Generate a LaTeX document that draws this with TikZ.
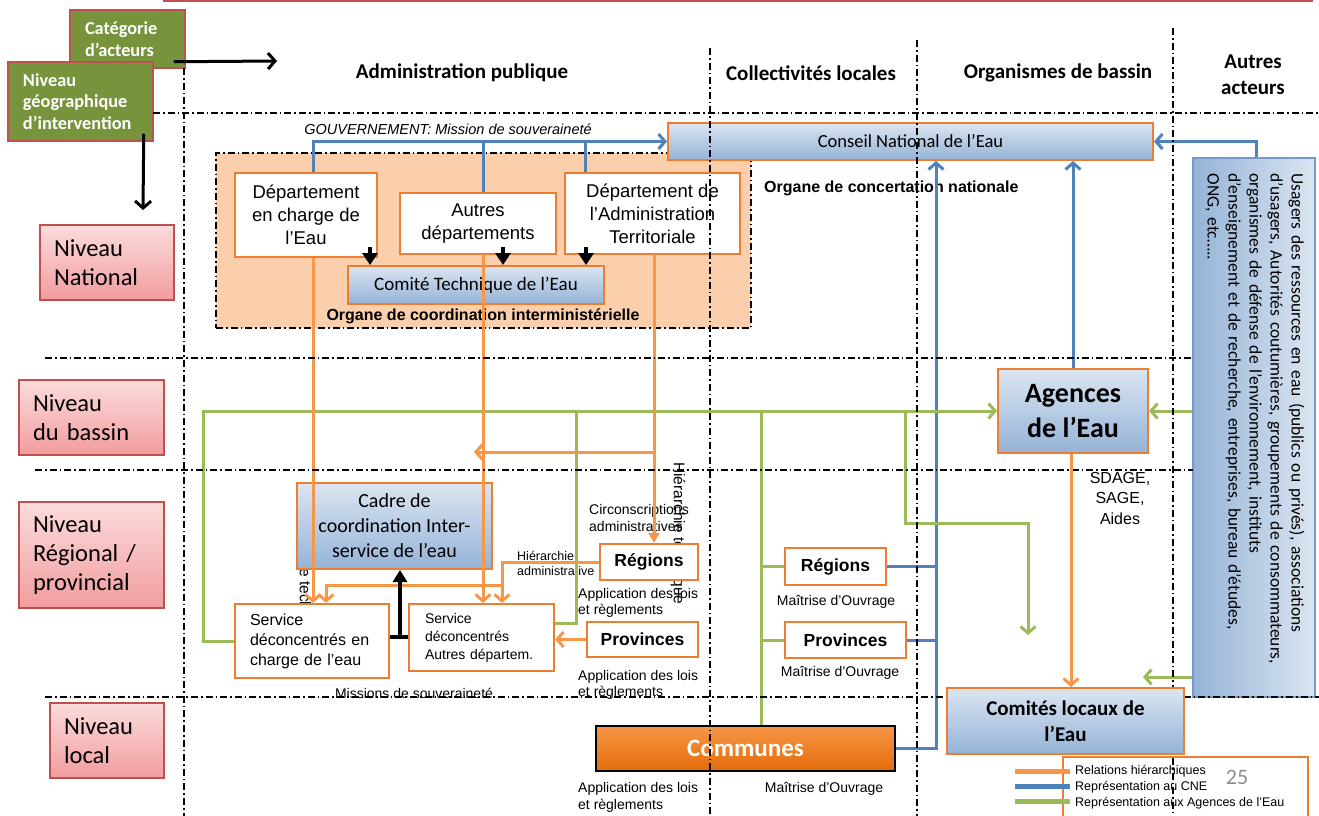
\documentclass[tikz,border=0pt]{standalone}
\usepackage{fontspec}
\setmainfont{Liberation Sans}
\newfontfamily\calib{Carlito}
\usetikzlibrary{arrows.meta,calc}
\definecolor{bxor}{HTML}{ED7D31}
\definecolor{lnor}{HTML}{F79646}
\definecolor{lnbl}{HTML}{4F81BD}
\definecolor{lngr}{HTML}{9BBB59}
\definecolor{peach}{HTML}{FBCFAC}
\definecolor{bltop}{HTML}{DBE5F1}
\definecolor{blbot}{HTML}{95B3D7}
\definecolor{pktop}{HTML}{FBDCDC}
\definecolor{pkbot}{HTML}{F29C9E}
\definecolor{pkbd}{HTML}{C0504D}
\definecolor{grfill}{HTML}{77933C}
\definecolor{cotop}{HTML}{F79646}
\definecolor{cobot}{HTML}{E36C09}
\definecolor{pgnum}{HTML}{8C8C8C}
\newcommand\myfs[2]{\fontsize{#1}{#2}\selectfont}
\begin{document}
\begin{tikzpicture}[x=1pt,y=-1pt,
  grid/.style={line width=1.6pt, dash pattern=on 7pt off 3pt on 1.6pt off 3pt},
  wbox/.style={draw=bxor, line width=2.2pt, fill=white, inner sep=0pt, align=center},
  bbox/.style={draw=bxor, line width=2pt, top color=bltop, bottom color=blbot, inner sep=0pt, align=center},
  pbox/.style={draw=pkbd, line width=1.5pt, top color=pktop, bottom color=pkbot, inner xsep=14pt, inner ysep=0pt, align=left, font=\calib\myfs{24.5}{29}},
  gbox/.style={draw=pkbd, line width=1.5pt, fill=grfill, text=white, inner xsep=15pt, inner ysep=0pt, align=left, font=\calib\bfseries\myfs{18.3}{21.7}},
  oln/.style={draw=lnor, line width=3pt},
  bln/.style={draw=lnbl, line width=3pt},
  gln/.style={draw=lngr, line width=3pt},
  barb/.style={-{Straight Barb[length=6.5pt,width=15pt,line width=3pt]}},
  hdr/.style={font=\calib\bfseries\myfs{21}{26}, align=center, inner sep=0pt},
  lbl/.style={inner sep=0pt, align=left, anchor=west},
  rot/.style={rotate=-90, anchor=west, inner sep=0pt, font=\myfs{15.5}{18}},
  blk/.style={line width=3.5pt, -{Triangle[length=12pt,width=15pt]}},
]
\useasboundingbox (0,0) rectangle (1319,816);
\draw[pkbd, line width=3pt] (163,1) -- (1313,1);

% coordination area
\node[draw, grid, line width=2pt, fill=peach, minimum width=535pt, minimum height=175pt, inner sep=0pt] (org) at (483.5,240.5) {};

% partly hidden texts
\node[rot] (ht1) at (678,462) {Hiérarchie technique};
\node[rot] (ht2) at (304,506) {Hiérarchie technique};
\node[lbl, font=\myfs{12.5}{15}] (hadm) at (517,563) {Hiérarchie\\administrative};

% category boxes
\node[gbox, text width=85pt, minimum height=58pt] (cat) at (127.5,39) {Catégorie\\d’acteurs};
\node[gbox, text width=115pt, minimum height=79pt] (geo) at (80.5,101.5) {Niveau\\géographique\\d’intervention};

% level boxes
\node[pbox, text width=106pt, minimum height=75pt] (nat) at (107,262.5) {Niveau\\National};
\node[pbox, text width=117pt, minimum height=75pt] (bas) at (91.5,417.5) {Niveau\\du bassin};
\node[pbox, text width=117pt, minimum height=106pt] (rgp) at (91.5,555) {Niveau\\Régional /\\provincial};
\node[pbox, text width=86pt, minimum height=75pt] (lcl) at (107,740.5) {Niveau\\local};

% headers
\node[hdr] (hAP) at (462,73) {Administration publique};
\node[hdr] (hCL) at (811,73) {Collectivités locales};
\node[hdr] (hOB) at (1058,73) {Organismes de bassin};
\node[hdr] (hAA) at (1253,75) {Autres\\acteurs};

% national level
\node[bbox, minimum width=485pt, minimum height=37pt, font=\calib\myfs{18.5}{23}] (cne) at (910.5,141.5) {Conseil National de l’Eau};
\node[wbox, minimum width=142pt, minimum height=84pt, font=\myfs{18.5}{23}] (d1) at (306,215) {Département\\en charge de\\l’Eau};
\node[wbox, minimum width=156pt, minimum height=61pt, font=\myfs{18.5}{23}] (d2) at (478,223.5) {Autres\\départements};
\node[wbox, minimum width=175pt, minimum height=81pt, font=\myfs{18.5}{23}] (d3) at (652.5,213.5) {Département de\\l’Administration\\Territoriale};
\node[bbox, minimum width=256pt, minimum height=38pt, font=\calib\myfs{19}{23}] (cte) at (476,285) {Comité Technique de l’Eau};
\node[font=\itshape\myfs{14.5}{17}, inner sep=0pt] (gouv) at (448,129) {GOUVERNEMENT: Mission de souveraineté};
\node[font=\bfseries\myfs{16}{19}, inner sep=0pt] (oci) at (483,316) {Organe de coordination interministérielle};
\node[font=\bfseries\myfs{16}{19}, inner sep=0pt, anchor=west] (ocn) at (764,188) {Organe de concertation nationale};

% regional level
\node[bbox, minimum width=195pt, minimum height=86pt, font=\calib\myfs{20}{25}] (cad) at (394.5,526) {Cadre de\\coordination Inter-\\service de l’eau};
\node[wbox, align=left, text width=124pt, inner xsep=15pt, minimum height=74pt, font=\myfs{16}{20}] (s1) at (312,641) {Service\\déconcentrés en\\charge de l’eau};
\node[wbox, align=left, text width=113pt, inner xsep=16pt, minimum height=67pt, font=\myfs{14}{18}] (s2) at (481.5,637.5) {Service\\déconcentrés\\Autres départem.};
\node[wbox, minimum width=98pt, minimum height=36pt, font=\bfseries\myfs{17.5}{21}] (rgL) at (649,562) {Régions};
\node[wbox, minimum width=111pt, minimum height=35pt, font=\bfseries\myfs{17.5}{21}] (prL) at (642.5,639.5) {Provinces};
\node[wbox, minimum width=101pt, minimum height=37pt, font=\bfseries\myfs{17.5}{21}] (rgR) at (835.5,566.5) {Régions};
\node[wbox, minimum width=121pt, minimum height=36pt, font=\bfseries\myfs{17.5}{21}] (prR) at (845.5,640) {Provinces};
\node[lbl, font=\myfs{14}{17}] (circ) at (589,517.5) {Circonscriptions\\administratives};
\node[lbl, font=\myfs{14}{16}] (ap1) at (578,603) {Application des lois\\et règlements};
\node[lbl, font=\myfs{14}{16}] (ap2) at (578,685) {Application des lois\\et règlements};
\node[lbl, font=\myfs{14}{17}] (ap3) at (578,797.5) {Application des lois\\et règlements};
\node[font=\myfs{14}{17}, inner sep=0pt] (mo1) at (836,602) {Maîtrise d’Ouvrage};
\node[font=\myfs{14}{17}, inner sep=0pt] (mo2) at (840,673) {Maîtrise d’Ouvrage};
\node[font=\myfs{14}{17}, inner sep=0pt] (mo3) at (824,789) {Maîtrise d’Ouvrage};
\node[font=\myfs{14}{17}, inner sep=0pt] (miss) at (414,693) {Missions de souveraineté};

% local level
\node[draw=black, line width=2pt, top color=cotop, bottom color=cobot, minimum width=299pt, minimum height=45pt, inner sep=0pt, text=white, font=\calib\bfseries\myfs{25}{30}] (com) at (745.5,748.5) {Communes};

% basin / others
\node[bbox, minimum width=150pt, minimum height=84pt, font=\calib\bfseries\myfs{28}{35}] (age) at (1073,411) {Agences\\de l’Eau};
\node[font=\myfs{16}{20.5}, align=center, inner sep=0pt] (sdg) at (1120,498) {SDAGE,\\SAGE,\\Aides};
\node[draw=lnbl!80, line width=1.5pt, left color=blbot, right color=bltop, minimum width=122pt, minimum height=539pt, inner sep=0pt] (usa) at (1254,427.5) {};
\node[rotate=-90, text width=515pt, align=left, inner sep=0pt, font=\calib\myfs{17.5}{21}] (usat) at (1255,431) {Usagers des ressources en eau (publics ou privés), associations\\d’usagers, Autorités coutumières, groupements de consommateurs,\\organismes de défense de l’environnement, instituts\\d’enseignement et de recherche, entreprises, bureau d’études,\\ONG, etc…..};

% free ends
\coordinate (catend) at (277,61);
\coordinate (geoend) at (143,210);
\coordinate (gend) at (1028,635);
\coordinate (gcl) at (1143,677);
\coordinate (olft) at (474,452);

% category arrows
\draw[line width=3pt, -{Straight Barb[length=7pt,width=16pt,line width=3pt]}] ($(cat.south east)+(-12,-7)$) -- (catend);
\draw[line width=3pt, -{Straight Barb[length=7pt,width=16pt,line width=3pt]}] ($(geo.south east)+(-10,-8)$) -- (geoend);

% blue: representation au CNE
\draw[bln, barb] (313,0 |- d1.north) |- (cne.west);
\draw[bln] (483,0 |- d2.north) -- (483,0 |- cne.west);
\draw[bln] (585,0 |- d3.north) -- (585,0 |- cne.west);
\draw[bln, barb] (1256,0 |- usa.north) |- (cne.east);
\draw[bln, barb] (age.north) -- (age.north |- cne.south);
\draw[bln, barb] (com.east) -| (936,0 |- cne.south);
\draw[bln] (rgR.east) -- (936,0 |- rgR.east);
\draw[bln] (prR.east) -- (936,0 |- prR.east);

% green: representation aux Agences
\draw[gln, barb] (s1.west) -| (203,0 |- age.west) -- (age.west);
\draw[gln] (s2.east |- 0,623) -| (576,0 |- age.west);
\draw[gln] (com.north -| 761,0) -- (761,0 |- age.west);
\draw[gln] (rgR.west) -- (761,0 |- rgR.west);
\draw[gln] (prR.west) -- (761,0 |- prR.west);
\draw[gln, barb] (905,0 |- age.west) -- (905,523) -| (gend);
\draw[gln, barb] (usa.west |- age.east) -- (age.east);
\draw[gln, barb] (usa.west |- gcl) -- (gcl);

% orange: relations hierarchiques
\draw[oln, barb] (313,0 |- d1.south) -- (313,0 |- s1.north);
\draw[oln, barb] (483,0 |- d2.south) -- (483,0 |- s2.north);
\draw[oln, -{Triangle[length=10pt,width=11pt]}] (654,0 |- d3.south) -- (654,0 |- rgL.north);
\draw[oln, barb] (654,0 |- olft) -- (olft);
\draw[oln, barb] (rgL.west) -| (502,0 |- s2.north);
\draw[oln, barb] (502,585) -| (326,0 |- s1.north);
\draw[oln, barb] (prL.west) -- (s2.east |- prL.west);

% black arrows
\draw[blk] (370,247) -- (370,0 |- cte.north);
\draw[blk] (503,247) -- (503,0 |- cte.north);
\draw[blk] (586,247) -- (586,0 |- cte.north);
\draw[line width=4pt, -{Triangle[length=12pt,width=14pt]}] (400,0 |- s1.east) ++(0,-4) -- (400,0 |- cad.south);
\draw[line width=4pt] (s1.east |- 0,637) -- (s2.west |- 0,637);

% legend
\node[draw=bxor, line width=2pt, minimum width=245pt, minimum height=64pt, inner sep=0pt, anchor=north west] (leg) at (1062,756) {};
\draw[draw=lnor, line width=5pt] (1015,771) -- (1070,771);
\draw[draw=lnbl, line width=5pt] (1015,786) -- (1070,786);
\draw[draw=lngr, line width=5pt] (1015,801) -- (1070,801);
\node[lbl, font=\myfs{12.5}{15}] (lg1) at (1075,771) {Relations hiérarchiques};
\node[lbl, font=\myfs{12.5}{15}] (lg2) at (1075,787) {Représentation  au CNE};
\node[lbl, font=\myfs{12.5}{15}] (lg3) at (1075,803) {Représentation aux Agences de l’Eau};
\node[text=pgnum, font=\calib\myfs{22}{26}, inner sep=0pt] (pg) at (1237,777) {25};

% grid
\draw[grid] (153,113) -- (1319,113);
\draw[grid] (45,358) -- (1193,358);
\draw[grid] (35,470) -- (1193,470);
\draw[grid] (45,697) -- (1319,697);
\draw[grid] (184,68) -- (184,816);
\draw[grid] (710,48) -- (710,816);
\draw[grid] (917,40) -- (917,816);
\draw[grid] (1173,28) -- (1173,816);

% Comites locaux (on top of grid)
\node[bbox, minimum width=237pt, minimum height=66pt, font=\calib\bfseries\myfs{21}{26}] (clo) at (1065.5,721) {Comités locaux de\\l’Eau};
\draw[oln, barb] (age.south -| 1071,0) -- (1071,0 |- clo.north);
\end{tikzpicture}
\end{document}
